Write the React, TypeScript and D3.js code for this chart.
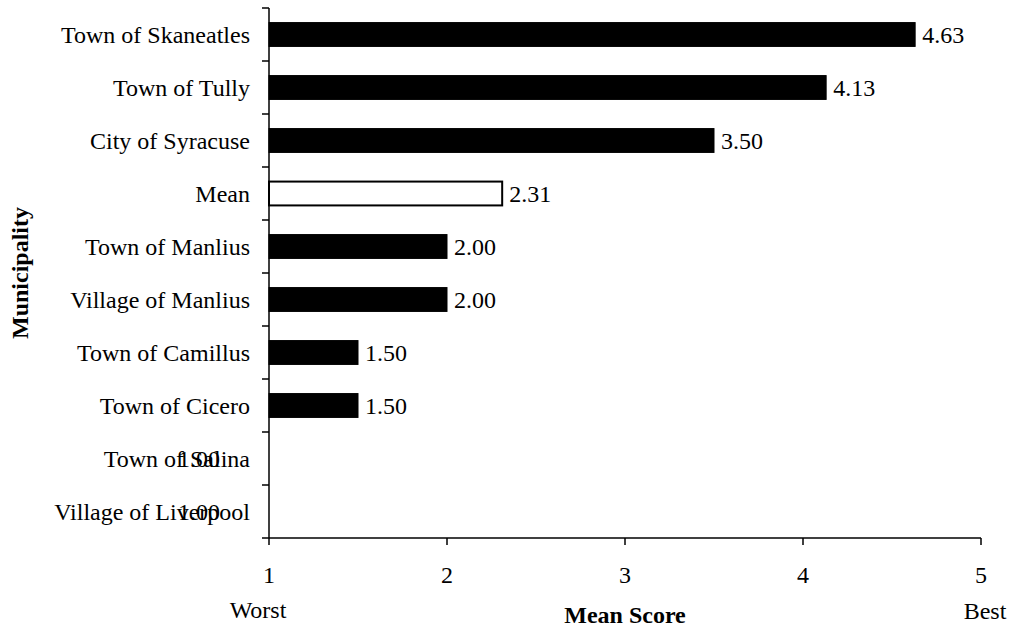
import React from "react";
import * as d3 from "d3";

const categories = [
  "Town of Skaneatles",
  "Town of Tully",
  "City of Syracuse",
  "Mean",
  "Town of Manlius",
  "Village of Manlius",
  "Town of Camillus",
  "Town of Cicero",
  "Town of Salina",
  "Village of Liverpool",
];
const values = [4.63, 4.13, 3.5, 2.31, 2.0, 2.0, 1.5, 1.5, 1.0, 1.0];
const xTicks = [1, 2, 3, 4, 5];

const W = 1010;
const H = 628;
const FONT = "'Liberation Serif', 'Times New Roman', serif";
const FS = 24;

export default function App() {
  const x = d3.scaleLinear().domain([1, 5]).range([269, 981]);
  const y = d3.scaleBand<string>().domain(categories).range([8, 538]).paddingInner(0.55).paddingOuter(0.275);
  const step = y.step();
  const boundaries = d3.range(categories.length + 1).map((i) => 8 + i * step);

  return (
    <svg
      width={W}
      height={H}
      style={{ position: "absolute", left: 0, top: 0, background: "#fff" }}
      fontFamily={FONT}
    >
      {/* bars */}
      {categories.map((c, i) => {
        const v = values[i];
        const isMean = c === "Mean";
        const bw = x(v) - x(1);
        return (
          <g key={c}>
            {bw > 0 && (
              <rect
                x={x(1)}
                y={y(c)!}
                width={bw}
                height={y.bandwidth()}
                fill={isMean ? "#fff" : "#000"}
                stroke="#000"
                strokeWidth={isMean ? 2 : 1}
              />
            )}
            <text
              x={bw > 0 ? x(v) + 7 : x(v) - 91}
              y={y(c)! + y.bandwidth() / 2}
              dy="0.35em"
              fontSize={FS}
              fill="#000"
            >
              {v.toFixed(2)}
            </text>
            <text
              x={250}
              y={y(c)! + y.bandwidth() / 2}
              dy="0.35em"
              fontSize={FS}
              textAnchor="end"
              fill="#000"
            >
              {c}
            </text>
          </g>
        );
      })}

      {/* y axis */}
      <line x1={269} x2={269} y1={8} y2={538} stroke="#000" strokeWidth={1.5} />
      {boundaries.map((b, i) => (
        <line key={i} x1={262} x2={269} y1={b} y2={b} stroke="#000" strokeWidth={1.5} />
      ))}

      {/* x axis */}
      <line x1={269} x2={981} y1={538} y2={538} stroke="#000" strokeWidth={1.5} />
      {xTicks.map((t) => (
        <g key={t}>
          <line x1={x(t)} x2={x(t)} y1={538} y2={545} stroke="#000" strokeWidth={1.5} />
          <text x={x(t)} y={583} fontSize={FS} textAnchor="middle" fill="#000">
            {t}
          </text>
        </g>
      ))}

      <text x={258} y={618} fontSize={FS} textAnchor="middle" fill="#000">
        Worst
      </text>
      <text x={985} y={619} fontSize={FS} textAnchor="middle" fill="#000">
        Best
      </text>
      <text x={x(3)} y={623} fontSize={FS} fontWeight="bold" textAnchor="middle" fill="#000">
        Mean Score
      </text>
      <text
        transform={`translate(28,273) rotate(-90)`}
        fontSize={FS}
        fontWeight="bold"
        textAnchor="middle"
        fill="#000"
      >
        Municipality
      </text>
    </svg>
  );
}
